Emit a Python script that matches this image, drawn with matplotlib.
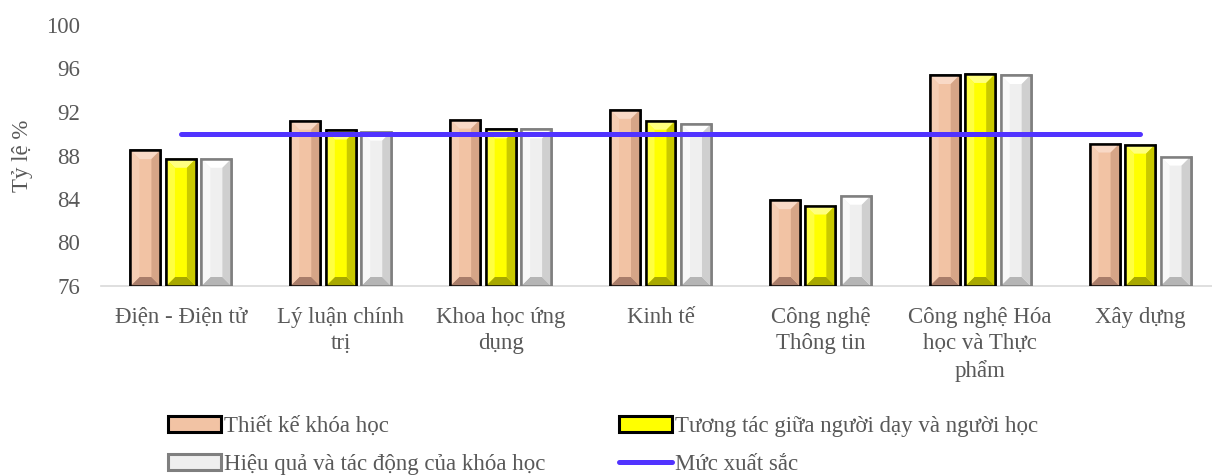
import matplotlib
matplotlib.use("Agg")
import matplotlib.pyplot as plt
import numpy as np
from matplotlib.patches import Polygon, Patch
from matplotlib.lines import Line2D

plt.rcParams['font.family'] = ['Liberation Serif', 'DejaVu Serif']

categories = [
    "Điện - Điện tử",
    "Lý luận chính\ntrị",
    "Khoa học ứng\ndụng",
    "Kinh tế",
    "Công nghệ\nThông tin",
    "Công nghệ Hóa\nhọc và Thực\nphẩm",
    "Xây dựng",
]
thiet_ke = [88.5, 91.2, 91.3, 92.2, 83.9, 95.4, 89.1]
tuong_tac = [87.7, 90.3, 90.4, 91.2, 83.4, 95.5, 89.0]
hieu_qua = [87.7, 90.2, 90.4, 90.9, 84.3, 95.4, 87.9]
muc_xuat_sac = [90, 90, 90, 90, 90, 90, 90]

series_labels = [
    "Thiết kế khóa học",
    "Tương tác giữa người dạy và người học",
    "Hiệu quả và tác động của khóa học",
]
line_label = "Mức xuất sắc"
y_ticks = [76, 80, 84, 88, 92, 96, 100]
y_label = "Tỷ lệ %"

# face, edge, top light, bottom dark, left, right
styles = [
    dict(face="#F2C3A4", edge="#000000", top="#F9D9C6", bottom="#A97D6A", left="#F5CDB3", right="#D6A587"),
    dict(face="#FFFF00", edge="#000000", top="#FFFF80", bottom="#A8A800", left="#FFFF40", right="#C9C900"),
    dict(face="#EFEFEF", edge="#7F7F7F", top="#FFFFFF", bottom="#B5B5B5", left="#F8F8F8", right="#CFCFCF"),
]

W, H, DPI = 1212, 475, 100
FS = 16.5
fig = plt.figure(figsize=(W / DPI, H / DPI), dpi=DPI)
ax_left, ax_right, ax_top, ax_bottom = 101, 1220, 25, 286
ax = fig.add_axes([ax_left / W, 1 - ax_bottom / H, (ax_right - ax_left) / W, (ax_bottom - ax_top) / H])

n = len(categories)
x = np.arange(n)
ax.set_xlim(-0.5, n - 0.5)
ax.set_ylim(y_ticks[0], y_ticks[-1])

bar_w = 0.1875
step = 0.222
px_per_x = (ax_right - ax_left) / n
px_per_y = (ax_bottom - ax_top) / (y_ticks[-1] - y_ticks[0])
bev_px = 9
bx = bev_px / px_per_x
by = bev_px / px_per_y

all_series = [thiet_ke, tuong_tac, hieu_qua]
for i, (vals, st) in enumerate(zip(all_series, styles)):
    offs = (i - 1) * step
    bars = ax.bar(x + offs, np.array(vals) - y_ticks[0], bottom=y_ticks[0], width=bar_w,
                  color=st["face"], edgecolor=st["edge"], linewidth=1.8, zorder=3)
    for rect in bars:
        x0 = rect.get_x()
        x1 = x0 + rect.get_width()
        y0 = rect.get_y()
        y1 = y0 + rect.get_height()
        polys = [
            ([(x0, y1), (x1, y1), (x1 - bx, y1 - by), (x0 + bx, y1 - by)], st["top"]),
            ([(x0, y0), (x1, y0), (x1 - bx, y0 + by), (x0 + bx, y0 + by)], st["bottom"]),
            ([(x0, y0), (x0, y1), (x0 + bx, y1 - by), (x0 + bx, y0 + by)], st["left"]),
            ([(x1, y0), (x1, y1), (x1 - bx, y1 - by), (x1 - bx, y0 + by)], st["right"]),
        ]
        for pts, c in polys:
            ax.add_patch(Polygon(pts, closed=True, facecolor=c, edgecolor="none", zorder=3.1))
        # redraw the outline over the bevel
        ax.add_patch(plt.Rectangle((x0, y0), x1 - x0, y1 - y0, facecolor="none",
                                   edgecolor=st["edge"], linewidth=1.8, zorder=3.2))

line_color = "#5133FF"
ax.plot(x, muc_xuat_sac, color=line_color, linewidth=3.6, solid_capstyle="round", zorder=4)

for s in ["top", "right", "left"]:
    ax.spines[s].set_visible(False)
ax.spines["bottom"].set_color("#D9D9D9")
ax.spines["bottom"].set_linewidth(1.2)
ax.spines["bottom"].set_zorder(2)

text_color = "#595959"
ax.set_yticks(y_ticks)
ax.set_yticklabels([str(v) for v in y_ticks])
ax.set_xticks(x)
ax.set_xticklabels(categories, linespacing=1.33)
ax.tick_params(axis="y", length=0, pad=15, labelsize=FS, labelcolor=text_color)
ax.tick_params(axis="x", length=0, pad=15, labelsize=FS, labelcolor=text_color)
ax.set_ylabel(y_label, fontsize=FS, color=text_color)
ax.yaxis.set_label_coords((33 - ax_left) / (ax_right - ax_left), 0.5)

h_tk = Patch(facecolor=styles[0]["face"], edgecolor=styles[0]["edge"], linewidth=2.2)
h_tt = Patch(facecolor=styles[1]["face"], edgecolor=styles[1]["edge"], linewidth=2.2)
h_hq = Patch(facecolor=styles[2]["face"], edgecolor=styles[2]["edge"], linewidth=2.2)
h_line = Line2D([0], [0], color=line_color, linewidth=3.6, solid_capstyle="round")
# legend fills column by column, so order entries to read row by row
handles = [h_tk, h_hq, h_tt, h_line]
labels = [series_labels[0], series_labels[2], series_labels[1], line_label]
leg = fig.legend(handles, labels, loc="upper left", bbox_to_anchor=(168 / W, 1 - 416 / H),
                 ncol=2, frameon=False, fontsize=FS, handlelength=2.3, handleheight=0.65,
                 handletextpad=0.15, columnspacing=3.2, labelspacing=0.75, borderpad=0,
                 borderaxespad=0, labelcolor=text_color)

fig.savefig("out.png", dpi=DPI)
